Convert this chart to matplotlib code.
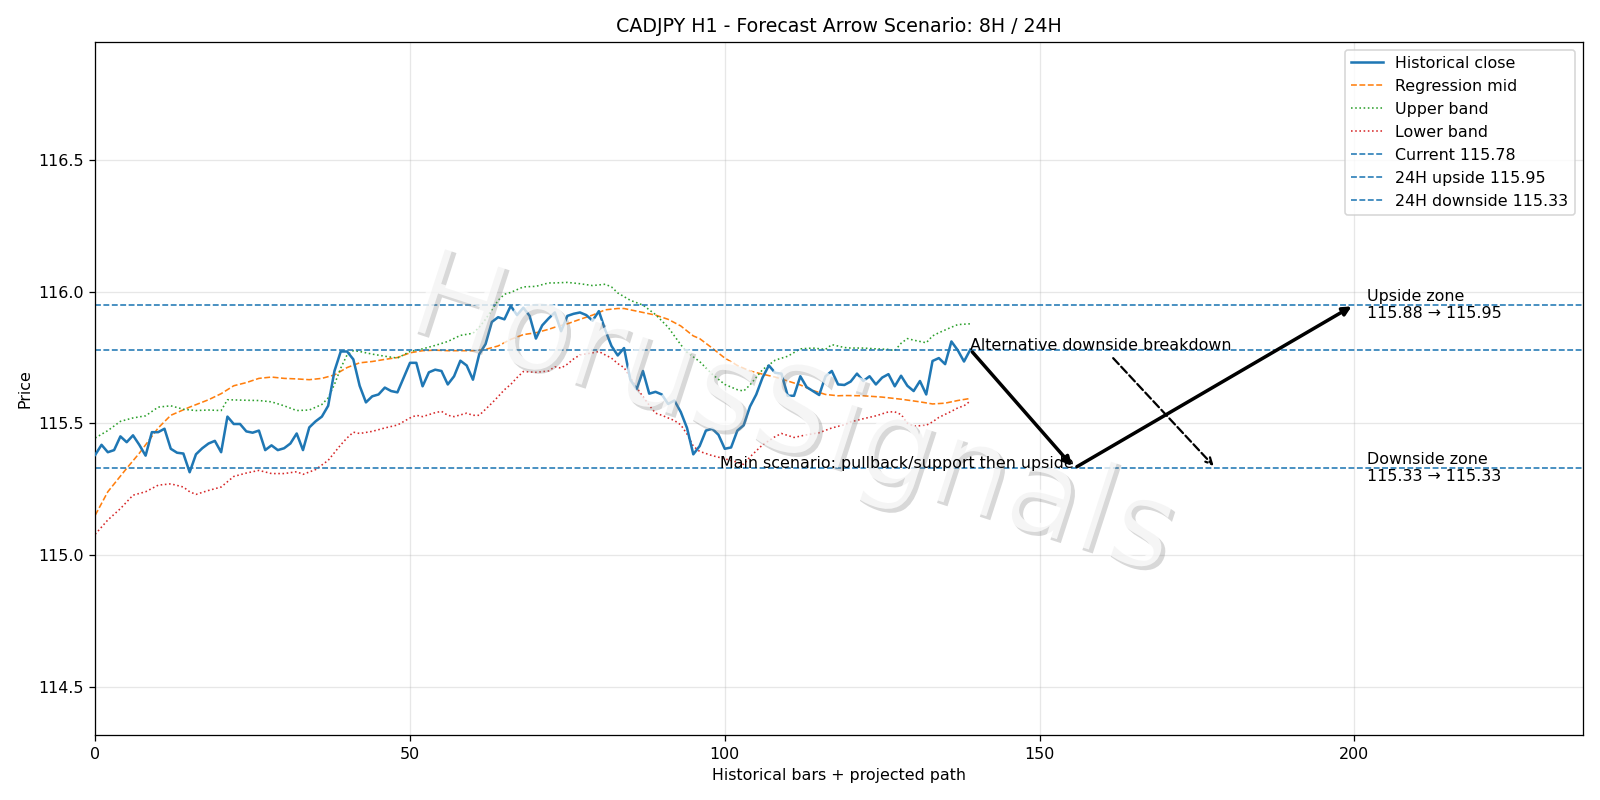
import matplotlib
matplotlib.use("Agg")
import matplotlib.pyplot as plt
import matplotlib.patheffects as pe
import numpy as np

# ---------------- data ----------------
close = [
    115.381, 115.419, 115.391, 115.399, 115.451, 115.429, 115.455, 115.419, 115.378, 115.467,
    115.467, 115.480, 115.404, 115.389, 115.386, 115.315, 115.383, 115.406, 115.424, 115.434,
    115.391, 115.526, 115.498, 115.498, 115.470, 115.465, 115.473, 115.399, 115.417, 115.399,
    115.406, 115.424, 115.462, 115.399, 115.485, 115.508, 115.526, 115.567, 115.699, 115.773,
    115.773, 115.743, 115.643, 115.580, 115.603, 115.610, 115.636, 115.623, 115.618, 115.674,
    115.730, 115.730, 115.641, 115.694, 115.704, 115.699, 115.648, 115.679, 115.738, 115.720,
    115.666, 115.763, 115.801, 115.885, 115.903, 115.895, 115.946, 115.911, 115.939, 115.908,
    115.822, 115.872, 115.898, 115.921, 115.850, 115.908, 115.916, 115.921, 115.911, 115.890,
    115.926, 115.855, 115.794, 115.758, 115.786, 115.666, 115.630, 115.699, 115.613, 115.620,
    115.610, 115.574, 115.587, 115.544, 115.483, 115.383, 115.414, 115.473, 115.480, 115.457,
    115.404, 115.409, 115.473, 115.493, 115.564, 115.610, 115.674, 115.720, 115.692, 115.689,
    115.605, 115.605, 115.679, 115.638, 115.623, 115.608, 115.679, 115.699, 115.648, 115.646,
    115.659, 115.689, 115.661, 115.679, 115.648, 115.674, 115.687, 115.641, 115.681, 115.643,
    115.623, 115.661, 115.610, 115.737, 115.748, 115.725, 115.811, 115.778, 115.735, 115.780,
]

mid_bars = [0, 2, 5, 7, 10, 12, 15, 18, 20, 22, 24, 26, 28, 30, 32, 34, 36, 38, 40, 42, 44, 46, 48,
            50, 52, 54, 56, 58, 60, 62, 64, 66, 68, 70, 72, 73, 75, 77, 79, 81, 83, 84, 85, 87, 89,
            91, 93, 95, 96, 98, 100, 102, 104, 106, 108, 110, 112, 114, 116, 118, 119, 122, 125,
            128, 131, 133, 135, 137, 139]
mid_vals = [115.152, 115.241, 115.330, 115.387, 115.483, 115.531, 115.562, 115.590, 115.613,
            115.643, 115.655, 115.671, 115.676, 115.671, 115.669, 115.666, 115.671, 115.684,
            115.712, 115.730, 115.735, 115.743, 115.750, 115.768, 115.776, 115.778, 115.776,
            115.776, 115.776, 115.781, 115.794, 115.819, 115.837, 115.844, 115.857, 115.865,
            115.878, 115.895, 115.911, 115.931, 115.936, 115.936, 115.931, 115.921, 115.911,
            115.895, 115.870, 115.832, 115.822, 115.786, 115.748, 115.720, 115.699, 115.687,
            115.676, 115.661, 115.646, 115.625, 115.610, 115.605, 115.606, 115.605, 115.600,
            115.592, 115.582, 115.574, 115.577, 115.587, 115.595]

upper_bars = [0, 2, 4, 6, 8, 10, 12, 14, 16, 18, 20, 21, 24, 26, 28, 30, 32, 34, 36, 37, 38, 39, 40,
              41, 42, 44, 46, 48, 50, 52, 54, 56, 58, 60, 61, 62, 63, 64, 65, 66, 68, 70, 72, 73, 75,
              77, 79, 81, 82, 83, 85, 87, 89, 91, 93, 94, 96, 98, 100, 102, 103, 104, 106, 108, 110,
              112, 114, 116, 117, 119, 120, 122, 124, 126, 127, 128, 129, 130, 131, 132, 133, 134,
              136, 137, 139]
upper_vals = [115.445, 115.473, 115.508, 115.521, 115.529, 115.562, 115.567, 115.554, 115.549,
              115.551, 115.549, 115.590, 115.588, 115.587, 115.582, 115.567, 115.549, 115.551,
              115.572, 115.597, 115.648, 115.710, 115.760, 115.776, 115.773, 115.763, 115.755,
              115.748, 115.773, 115.783, 115.796, 115.811, 115.834, 115.842, 115.865, 115.895,
              115.931, 115.967, 115.990, 115.997, 116.018, 116.020, 116.033, 116.033, 116.035,
              116.030, 116.023, 116.028, 116.018, 115.995, 115.967, 115.949, 115.913, 115.865,
              115.799, 115.770, 115.735, 115.687, 115.648, 115.628, 115.623, 115.646, 115.704,
              115.740, 115.755, 115.783, 115.786, 115.781, 115.799, 115.788, 115.786, 115.786,
              115.783, 115.781, 115.776, 115.804, 115.822, 115.816, 115.811, 115.806, 115.832,
              115.844, 115.865, 115.875, 115.878]

lower_bars = [0, 2, 4, 6, 8, 10, 12, 14, 15, 16, 18, 20, 22, 24, 26, 28, 30, 32, 33, 35, 37, 39, 40,
              41, 42, 44, 46, 48, 50, 51, 52, 54, 55, 56, 57, 59, 60, 61, 62, 63, 64, 65, 66, 67, 68,
              70, 72, 73, 74, 75, 76, 77, 79, 80, 81, 82, 83, 84, 85, 86, 87, 88, 89, 90, 91, 92, 93,
              94, 95, 96, 98, 100, 102, 103, 104, 106, 108, 109, 111, 113, 115, 117, 119, 120, 122,
              124, 126, 127, 128, 129, 130, 132, 133, 134, 136, 137, 138, 139]
lower_vals = [115.080, 115.134, 115.177, 115.228, 115.241, 115.266, 115.271, 115.259, 115.241,
              115.231, 115.246, 115.259, 115.299, 115.312, 115.322, 115.310, 115.310, 115.317,
              115.307, 115.325, 115.360, 115.419, 115.445, 115.467, 115.462, 115.470, 115.483,
              115.494, 115.521, 115.531, 115.526, 115.541, 115.546, 115.531, 115.526, 115.539,
              115.531, 115.531, 115.554, 115.577, 115.602, 115.628, 115.648, 115.674, 115.697,
              115.694, 115.699, 115.715, 115.710, 115.725, 115.745, 115.760, 115.768, 115.773,
              115.760, 115.748, 115.727, 115.712, 115.674, 115.636, 115.602, 115.569, 115.539,
              115.531, 115.521, 115.511, 115.495, 115.460, 115.414, 115.394, 115.378, 115.366,
              115.353, 115.345, 115.373, 115.419, 115.450, 115.462, 115.447, 115.457, 115.465,
              115.483, 115.495, 115.506, 115.518, 115.529, 115.544, 115.544, 115.534, 115.501,
              115.490, 115.493, 115.506, 115.523, 115.546, 115.559, 115.567, 115.585]

current_price = 115.78
upside_target = 115.95
downside_target = 115.33
upside_zone = (115.88, 115.95)
downside_zone = (115.33, 115.33)

main_path_bars = [139, 155.5, 200]
main_path_prices = [115.78, 115.33, 115.95]
alt_path_bars = [139, 178]
alt_path_prices = [115.78, 115.33]

title = "CADJPY H1 - Forecast Arrow Scenario: 8H / 24H"
watermark = "HorusSignals"

# ---------------- plot ----------------
fig, ax = plt.subplots(figsize=(14, 7), dpi=1600 / 14)
bars = np.arange(len(close))

ax.plot(bars, close, color="C0", lw=1.6, label="Historical close", zorder=3)
ax.plot(mid_bars, mid_vals, "--", color="C1", lw=1.0, label="Regression mid")
ax.plot(upper_bars, upper_vals, ":", color="C2", lw=1.0, label="Upper band")
ax.plot(lower_bars, lower_vals, ":", color="C3", lw=1.0, label="Lower band")
ax.axhline(current_price, ls="--", lw=1.0, color="C0", label=f"Current {current_price:.2f}")
ax.axhline(upside_target, ls="--", lw=1.0, color="C0", label=f"24H upside {upside_target:.2f}")
ax.axhline(downside_target, ls="--", lw=1.0, color="C0", label=f"24H downside {downside_target:.2f}")

# watermark (over the data lines, under the annotations)
ax.text(0.468, 0.458, watermark, transform=ax.transAxes, fontsize=77, rotation=-18,
        ha="center", va="center", color="white", alpha=0.75, zorder=5,
        path_effects=[pe.withSimplePatchShadow(offset=(2.5, -2.5), shadow_rgbFace="gray", alpha=0.3)])

# main scenario arrows
for k in range(len(main_path_bars) - 1):
    ax.annotate("", xy=(main_path_bars[k + 1], main_path_prices[k + 1]),
                xytext=(main_path_bars[k], main_path_prices[k]),
                arrowprops=dict(arrowstyle="-|>", lw=2.2, color="black", mutation_scale=11),
                zorder=6)
ax.text(main_path_bars[1], main_path_prices[1], "Main scenario: pullback/support then upside",
        ha="right", va="baseline", fontsize=10, zorder=7)

# alternative scenario
ax.annotate("Alternative downside breakdown", xy=(alt_path_bars[1], alt_path_prices[1]),
            xytext=(alt_path_bars[0], alt_path_prices[0]), fontsize=10,
            arrowprops=dict(arrowstyle="->", lw=1.4, ls="--", color="black"),
            zorder=7)

ax.text(202, upside_target, f"Upside zone\n{upside_zone[0]:.2f} \u2192 {upside_zone[1]:.2f}",
        ha="left", va="center", fontsize=10, zorder=7)
ax.text(202, downside_target, f"Downside zone\n{downside_zone[0]:.2f} \u2192 {downside_zone[1]:.2f}",
        ha="left", va="center", fontsize=10, zorder=7)

ax.set_xlim(0, 236.3)
ax.set_ylim(114.317, 116.948)
ax.set_title(title, fontsize=12)
ax.set_xlabel("Historical bars + projected path")
ax.set_ylabel("Price")
ax.grid(True, alpha=0.3)
ax.legend(loc="upper right")

fig.tight_layout()
fig.savefig("out.png", dpi=1600 / 14)
